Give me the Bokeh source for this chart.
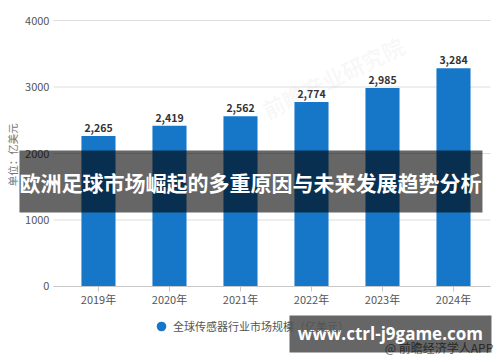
import math
from bokeh.plotting import figure
from bokeh.models import (ColumnDataSource, Label, Legend, LegendItem, Range1d, BoxAnnotation)
from bokeh.core.properties import value
from bokeh.embed import file_html
from bokeh.resources import INLINE

years = ["2019年", "2020年", "2021年", "2022年", "2023年", "2024年"]
market = [2265, 2419, 2562, 2774, 2985, 3284]
value_labels = ["2,265", "2,419", "2,562", "2,774", "2,985", "3,284"]
y_ticks = [0, 1000, 2000, 3000, 4000]
y_tick_labels = ["0", "1000", "2000", "3000", "4000"]
series_name = "全球传感器行业市场规模（亿美元）"
unit_label = "单位：亿美元"
banner_title = "欧洲足球市场崛起的多重原因与未来发展趋势分析"
site_text = "www.ctrl-j9game.com"
source_text = "@ 前瞻经济学人APP"
watermark = "前瞻产业研究院"

FONT = "Noto Sans CJK SC"
BLUE = "#1677c8"
TXT = "#555555"

# plotting-area extent in data units (category index on x, value on y)
X_LEFT, X_RIGHT = -0.634, 5.52

xs = list(range(len(years)))
src = ColumnDataSource(dict(x=xs, top=market, lab=value_labels, year=years,
                            base=[0] * len(xs)))
ysrc = ColumnDataSource(dict(y=y_ticks, lab=y_tick_labels,
                             x0=[X_LEFT] * len(y_ticks), x1=[X_RIGHT] * len(y_ticks)))

p = figure(width=500, height=362, output_backend="svg", toolbar_location=None,
           x_range=Range1d(-1.380, 5.662), y_range=Range1d(-1143, 4301),
           min_border=0, x_axis_type=None, y_axis_type=None)
p.outline_line_color = None
p.background_fill_color = "white"
p.border_fill_color = "white"
p.grid.visible = False

# faint watermark
p.add_layout(Label(x=3.3, y=3150, text=watermark, angle=0.45, text_font=FONT,
                   text_font_size="22px", text_color="#999999", text_alpha=0.08,
                   text_align="center", text_baseline="middle", text_font_style="bold"))

# horizontal gridlines
p.segment(x0="x0", x1="x1", y0="y", y1="y", source=ysrc, line_color="#dddddd", line_width=1)
# y tick labels
p.text(x="x0", y="y", text="lab", source=ysrc, x_offset=-4, text_align="right",
       text_baseline="middle", text_font=value(FONT), text_font_size="11px", text_color=TXT)

bars = p.vbar(x="x", top="top", width=0.48, source=src, color=BLUE, line_color=None)
p.text(x="x", y="top", text="lab", source=src, y_offset=-8, text_align="center",
       text_baseline="middle", text_font=value(FONT), text_font_size="10.5px",
       text_font_style="bold", text_color="#333333")

# x axis line, ticks, labels
p.segment(x0=[X_LEFT], x1=[X_RIGHT], y0=[0], y1=[0], line_color="#c8c8c8", line_width=1)
p.ray(x="x", y="base", source=src, length=5, length_units="screen", angle=-math.pi / 2,
      line_color="#c8c8c8", line_width=1)
p.text(x="x", y="base", text="year", source=src, y_offset=13, text_align="center",
       text_baseline="middle", text_font=value(FONT), text_font_size="11px", text_color=TXT)

# unit label on the left
p.add_layout(Label(x=-1.21, y=1980, text=unit_label, angle=math.pi / 2, text_font=FONT,
                   text_font_size="10.5px", text_color="#777777", text_align="center",
                   text_baseline="middle"))

# legend with circle marker (legend-only renderer, point kept off-screen)
dot = p.scatter(x=[-50], y=[-50000], marker="circle", size=10, color=BLUE, line_color=None)
legend = Legend(items=[LegendItem(label=series_name, renderers=[dot])],
                location=(149, 24), orientation="horizontal",
                label_text_font=FONT, label_text_font_size="11px", label_text_color=TXT,
                glyph_width=24, glyph_height=24, label_height=12, label_standoff=0,
                padding=0, margin=0, border_line_color=None, background_fill_alpha=0)
p.add_layout(legend, "center")

# source text (under the banner)
p.add_layout(Label(x=5.56, y=-917, text=source_text, text_font=FONT, text_font_size="12px",
                   text_color="#666666", text_align="right", text_baseline="middle"))

# title banner
p.add_layout(BoxAnnotation(left=-1.113, right=5.408, top=2045, bottom=1113,
                           fill_color="black", fill_alpha=0.6, line_color=None))
p.add_layout(Label(x=2.14, y=1579, text=banner_title, text_font=FONT, text_font_size="21px",
                   text_font_style="bold", text_color="white", text_align="center",
                   text_baseline="middle"))

# site banner
p.add_layout(BoxAnnotation(left=2.690, right=5.535, top=-436, bottom=-992,
                           fill_color="black", fill_alpha=0.6, line_color=None))
p.add_layout(Label(x=4.11, y=-714, text=site_text, text_font="Open Sans", text_font_size="17px",
                   text_font_style="bold", text_color="white", text_align="center",
                   text_baseline="middle"))

open("out.html", "w").write(file_html(p, INLINE))
